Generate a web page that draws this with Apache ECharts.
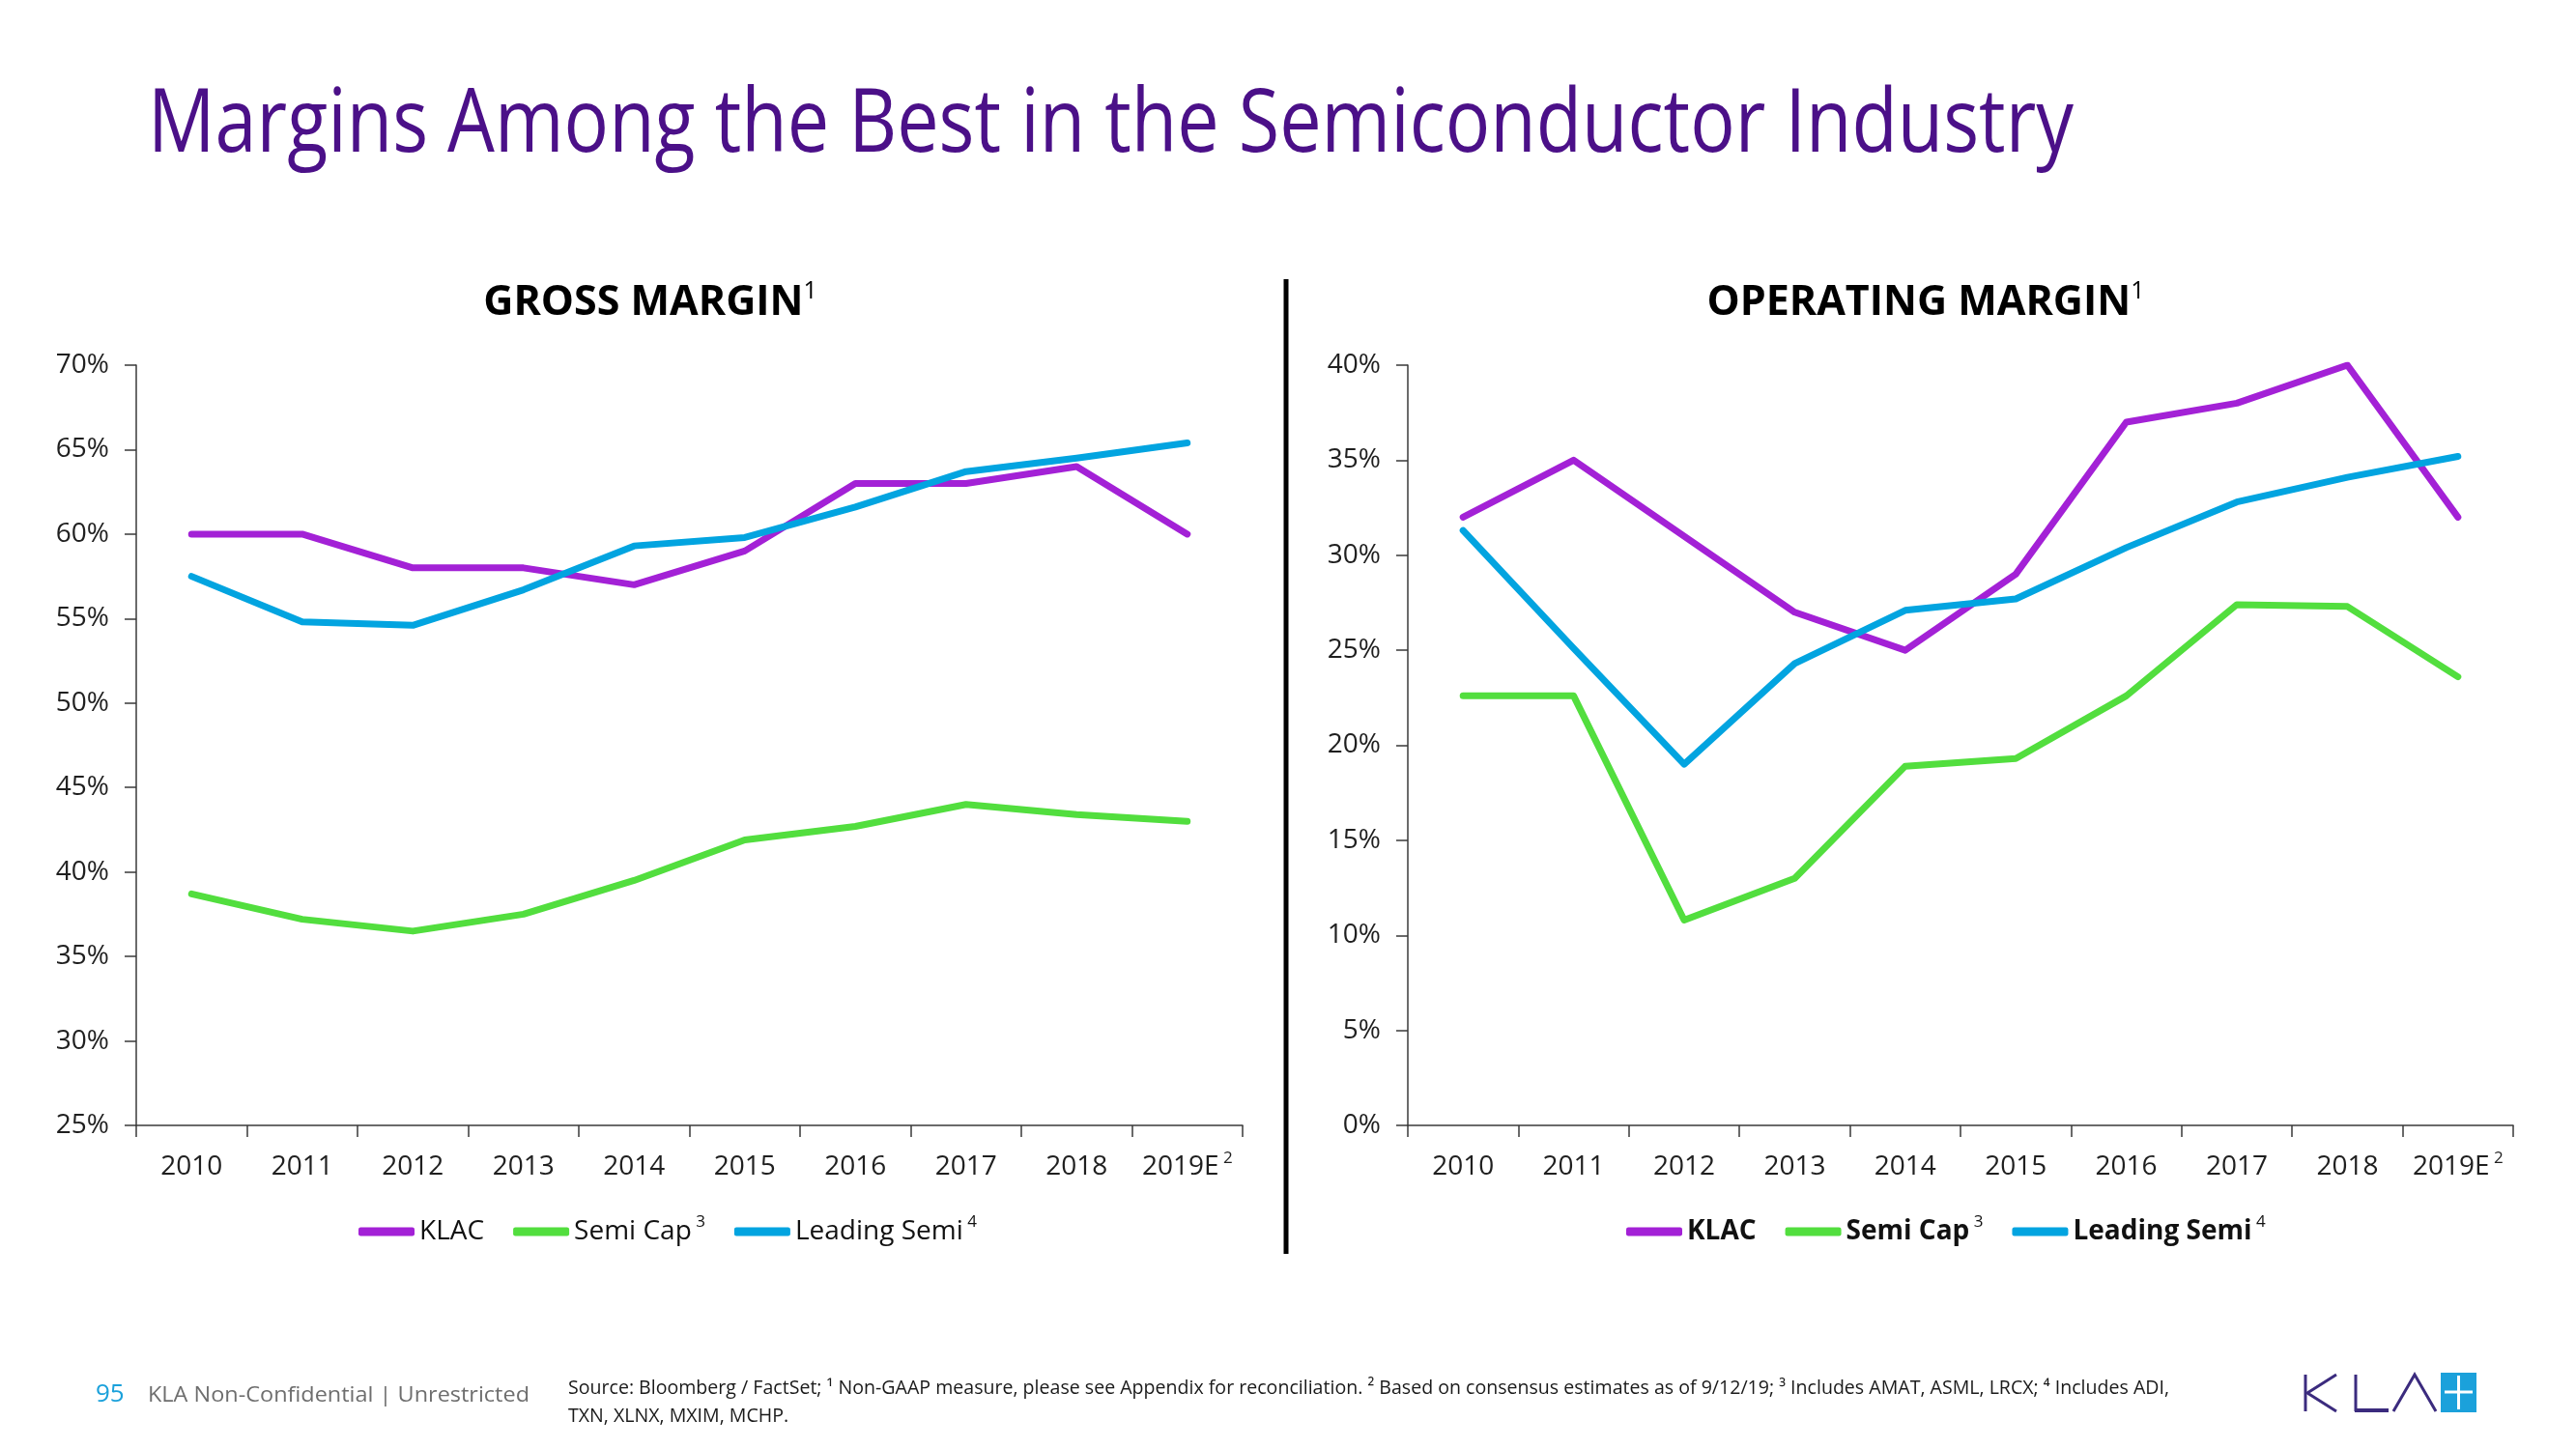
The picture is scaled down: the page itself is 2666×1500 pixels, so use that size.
<!DOCTYPE html>
<html>
<head>
<meta charset="utf-8">
<script src="https://cdn.jsdelivr.net/npm/echarts@6/dist/echarts.min.js"></script>
<style>
html,body{margin:0;padding:0;background:#fff;}
#main{width:2666px;height:1500px;}
</style>
</head>
<body>
<div id="main"></div>
<script>
// ---------- DATA ----------
const categories = ['2010','2011','2012','2013','2014','2015','2016','2017','2018','2019E'];
const categoryNotes = ['','','','','','','','','','2'];
const seriesNames = ['KLAC','Semi Cap','Leading Semi'];
const seriesNotes = ['','3','4'];

const grossKLAC    = [60, 60, 58, 58, 57, 59, 63, 63, 64, 60];
const grossSemiCap = [38.7, 37.2, 36.5, 37.5, 39.5, 41.9, 42.7, 44.0, 43.4, 43.0];
const grossLeading = [57.5, 54.8, 54.6, 56.7, 59.3, 59.8, 61.6, 63.7, 64.5, 65.4];

const opKLAC    = [32, 35, 31, 27, 25, 29, 37, 38, 40, 32];
const opSemiCap = [22.6, 22.6, 10.8, 13.0, 18.9, 19.3, 22.6, 27.4, 27.3, 23.6];
const opLeading = [31.3, 25.1, 19.0, 24.3, 27.1, 27.7, 30.4, 32.8, 34.1, 35.2];

const grossTicks = [25, 30, 35, 40, 45, 50, 55, 60, 65, 70];
const opTicks    = [0, 5, 10, 15, 20, 25, 30, 35, 40];

const titleText = 'Margins Among the Best in the Semiconductor Industry';
const chartTitles = ['GROSS MARGIN', 'OPERATING MARGIN'];
const chartTitleNotes = ['1', '1'];
const pageNumber = '95';
const confidentiality = 'KLA Non-Confidential | Unrestricted';
const sourceLine1 = 'Source: Bloomberg / FactSet; \u00B9 Non-GAAP measure, please see Appendix for reconciliation. \u00B2 Based on consensus estimates as of 9/12/19; \u00B3 Includes AMAT, ASML, LRCX; \u2074 Includes ADI,';
const sourceLine2 = 'TXN, XLNX, MXIM, MCHP.';

// ---------- STYLE ----------
const FONT = '"Open Sans", "Noto Sans", sans-serif';
const colors = ['#A321D6', '#52DE3E', '#02A4E0'];
const axisColor = '#3a3a3a';
const labelColor = '#1f1f1f';

const cv = document.createElement('canvas').getContext('2d');
function fitScale(text, font, target) {
  cv.font = font;
  return target / cv.measureText(text).width;
}

const chart = echarts.init(document.getElementById('main'), null, {renderer: 'canvas'});

function xAxisCfg(gridIndex) {
  return {
    type: 'category', gridIndex, data: categories, boundaryGap: true,
    axisLine: {lineStyle: {color: axisColor, width: 1.5}},
    axisTick: {show: true, interval: 0, length: 12, alignWithLabel: false, lineStyle: {color: axisColor, width: 1.5}},
    axisLabel: {
      interval: 0, margin: 26, color: labelColor, fontFamily: FONT, fontSize: 28,
      formatter: function (v) {
        const n = categoryNotes[categories.indexOf(v)];
        return n ? '{a|' + v + '}{s| ' + n + '}' : '{a|' + v + '}';
      },
      rich: {
        a: {fontFamily: FONT, fontSize: 28, color: labelColor, lineHeight: 34},
        s: {fontFamily: FONT, fontSize: 17, color: labelColor, verticalAlign: 'top', lineHeight: 34}
      }
    },
    splitLine: {show: false}
  };
}
function yAxisCfg(gridIndex, ticks) {
  return {
    type: 'value', gridIndex,
    min: ticks[0], max: ticks[ticks.length - 1], interval: ticks[1] - ticks[0],
    axisLine: {show: true, lineStyle: {color: axisColor, width: 1.5}},
    axisTick: {show: true, length: 12, lineStyle: {color: axisColor, width: 1.5}},
    axisLabel: {margin: 28, color: labelColor, fontFamily: FONT, fontSize: 28, formatter: '{value}%'},
    splitLine: {show: false}
  };
}
function lineSeries(name, idx, data, gi) {
  return {
    name, type: 'line', xAxisIndex: gi, yAxisIndex: gi, data,
    showSymbol: false, symbol: 'none', smooth: false,
    lineStyle: {color: colors[idx], width: 7, cap: 'round', join: 'round'},
    itemStyle: {color: colors[idx]},
    z: 3 + idx
  };
}
function legendCfg(left, bold) {
  const w = bold ? 'bold' : 'normal';
  return {
    left: left, top: 1252, orient: 'horizontal',
    data: seriesNames, icon: 'roundRect', itemWidth: 58, itemHeight: 9, itemGap: 30,
    selectedMode: false,
    formatter: function (name) {
      const n = seriesNotes[seriesNames.indexOf(name)];
      return n ? '{n|' + name + '}{s| ' + n + '}' : '{n|' + name + '}';
    },
    textStyle: {
      color: '#111', fontFamily: FONT, fontSize: 28, fontWeight: w,
      rich: {
        n: {fontFamily: FONT, fontSize: 28, fontWeight: w, color: '#111', lineHeight: 36},
        s: {fontFamily: FONT, fontSize: 17, fontWeight: 'normal', color: '#111', verticalAlign: 'top', lineHeight: 36}
      }
    }
  };
}

const titleFont = '400 91px ' + FONT;
const titleScale = fitScale(titleText, titleFont, 1993);
const confFont = '400 22px ' + FONT;
const confScale = fitScale(confidentiality, confFont, 395);
const srcFont = '400 20px ' + FONT;
const srcScale = fitScale(sourceLine1, srcFont, 1657);

function chartTitle(i, cx) {
  return {
    type: 'text', x: cx, y: 314,
    style: {
      text: '{m|' + chartTitles[i] + '}{s|' + chartTitleNotes[i] + '}',
      align: 'center', verticalAlign: 'middle',
      rich: {
        m: {font: 'bold 43px ' + FONT, fill: '#000', lineHeight: 50},
        s: {font: '400 25px ' + FONT, fill: '#000', verticalAlign: 'top', lineHeight: 50}
      }
    }
  };
}

const logoPurple = '#3B2B7E';
const logoCyan = '#1BA1DB';
function seg(points, color, w) {
  return {type: 'polyline', shape: {points}, style: {stroke: color, lineWidth: w, fill: null, lineCap: 'butt', lineJoin: 'miter'}};
}

const option = {
  backgroundColor: '#ffffff',
  animation: false,
  grid: [
    {left: 141, top: 378, width: 1145, height: 787},
    {left: 1457, top: 378, width: 1144, height: 787}
  ],
  xAxis: [xAxisCfg(0), xAxisCfg(1)],
  yAxis: [yAxisCfg(0, grossTicks), yAxisCfg(1, opTicks)],
  legend: [legendCfg(366, false), legendCfg(1678, true)],
  series: [
    lineSeries(seriesNames[0], 0, grossKLAC, 0),
    lineSeries(seriesNames[1], 1, grossSemiCap, 0),
    lineSeries(seriesNames[2], 2, grossLeading, 0),
    lineSeries(seriesNames[0], 0, opKLAC, 1),
    lineSeries(seriesNames[1], 1, opSemiCap, 1),
    lineSeries(seriesNames[2], 2, opLeading, 1)
  ],
  graphic: [
    {type: 'text', x: 153, y: 131, scaleX: titleScale,
      style: {text: titleText, font: titleFont, fill: '#4B1088', align: 'left', verticalAlign: 'middle'}},
    chartTitle(0, 673),
    chartTitle(1, 1993),
    {type: 'line', shape: {x1: 1331, y1: 289, x2: 1331, y2: 1298}, style: {stroke: '#000', lineWidth: 5}},
    {type: 'text', x: 99, y: 1444,
      style: {text: pageNumber, font: '400 26px ' + FONT, fill: '#1BA1DB', align: 'left', verticalAlign: 'middle'}},
    {type: 'text', x: 153, y: 1445, scaleX: confScale,
      style: {text: confidentiality, font: confFont, fill: '#6e6e6e', align: 'left', verticalAlign: 'middle'}},
    {type: 'text', x: 588, y: 1437, scaleX: srcScale,
      style: {text: sourceLine1, font: srcFont, fill: '#1a1a1a', align: 'left', verticalAlign: 'middle'}},
    {type: 'text', x: 588, y: 1466, scaleX: srcScale,
      style: {text: sourceLine2, font: srcFont, fill: '#1a1a1a', align: 'left', verticalAlign: 'middle'}},
    // logo
    seg([[2386, 1423], [2386, 1461]], logoPurple, 3),
    seg([[2418, 1423], [2388, 1442], [2418, 1461]], logoPurple, 3),
    seg([[2438, 1423], [2438, 1461]], logoPurple, 3),
    seg([[2437, 1460], [2472, 1460]], logoPurple, 4),
    seg([[2477, 1461], [2499, 1423], [2521, 1461]], logoPurple, 3),
    {type: 'rect', shape: {x: 2526, y: 1421, width: 37, height: 41}, style: {fill: logoCyan}},
    seg([[2530, 1441], [2559, 1441]], '#ffffff', 3),
    seg([[2544.5, 1424], [2544.5, 1459]], '#ffffff', 3)
  ]
};
chart.setOption(option);
</script>
</body>
</html>
